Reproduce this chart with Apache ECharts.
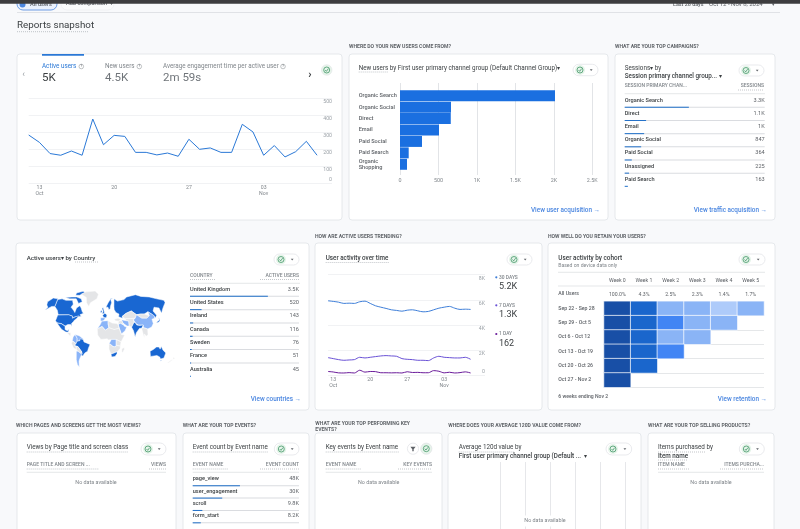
<!DOCTYPE html>
<html>
<head>
<meta charset="utf-8">
<title>Reports snapshot</title>
<script src="https://cdn.jsdelivr.net/npm/echarts@6/dist/echarts.min.js"></script>
<style>
html, body { margin: 0; padding: 0; background: #f8f9fb; }
#chart { width: 800px; height: 529px; filter: blur(0.35px); }
</style>
</head>
<body>
<div id="chart"></div>
<script>
// active users per day, Oct 12 - Nov 8
var activeUsers = [284,241,175,165,190,165,378,227,282,276,182,182,167,178,159,259,200,208,182,182,347,302,165,222,155,186,247,165];
var activity30 = [5920,5870,5810,5710,5730,5710,5840,5890,5710,5520,5410,5310,5200,5150,5090,5170,5200,5120,5040,5070,5200,5330,5410,5470,5330,5230,5250,5230];
var activity7 = [1387,1307,1227,1173,1200,1227,1413,1360,1413,1467,1520,1547,1520,1493,1307,1253,1227,1173,1173,1147,1360,1493,1413,1387,1360,1360,1413,1253];
var activity1 = [280,240,170,160,190,160,380,230,280,270,180,180,170,180,160,260,200,210,180,180,350,300,170,220,160,190,250,162];
var dayTicks = [1, 8, 15, 22];
var dayLabels = ['13\nOct', '20', '27', '03\nNov'];

var channels = ['Organic Search', 'Organic Social', 'Direct', 'Email', 'Paid Social', 'Paid Search', 'Organic\nShopping'];
var newUsers = [2015, 663, 660, 507, 286, 113, 91];

var campaigns = ['Organic Search', 'Direct', 'Email', 'Organic Social', 'Paid Social', 'Unassigned', 'Paid Search'];
var sessions = [3300, 1100, 1000, 847, 364, 225, 163];
var sessionsTotal = 7200;

var countries = ['United Kingdom', 'United States', 'Ireland', 'Canada', 'Sweden', 'France', 'Australia'];
var countryUsers = [3500, 520, 143, 116, 76, 51, 45];
var countryTotal = 4900;

var events = ['page_view', 'user_engagement', 'scroll', 'form_start'];
var eventCounts = [48000, 30000, 9800, 8200];
var eventTotal = 108000;

var weeks = ['Week 0', 'Week 1', 'Week 2', 'Week 3', 'Week 4', 'Week 5'];
var allUsersRow = ['100.0%', '4.3%', '2.5%', '2.3%', '1.4%', '1.7%'];
var cohorts = ['Sep 22 - Sep 28', 'Sep 29 - Oct 5', 'Oct 6 - Oct 12', 'Oct 13 - Oct 19', 'Oct 20 - Oct 26', 'Oct 27 - Nov 2'];
var retention = [
    [100, 4.5, 2.0, 2.1, 1.4, 1.7],
    [100, 4.6, 3.2, 2.0, 1.8],
    [100, 4.4, 2.0, 1.9],
    [100, 4.3, 3.1],
    [100, 4.2],
    [100]
];

// map values: listed countries plus rough guesses for the rest from the shading
var mapNames = ['United Kingdom','United States','Ireland','Canada','Sweden','France','Australia','Russia','Brazil','India','Mexico','South Africa','Japan','Indonesia',
    'China','Argentina','Algeria','Iran','Saudi Arabia','DR Congo','Colombia','Venezuela','Spain',
    'Greenland','Kazakhstan','Mongolia','Central Asia','Turkey','Iraq','SE Asia','North Africa','Sahel','East Africa','Southern Africa','Madagascar','Europe','Italy','Peru','Bolivia','Chile','Central America','New Zealand'];
var mapUsers = [3500,520,143,116,76,51,45,40,30,28,20,18,17,16,
    9,7,6,5,6,4,5,5,3,
    0,1,0,1,1,0,1,1,0,1,1,0,2,2,1,0,2,1,0];

// hand drawn outlines, lon/lat
var outlines = {
    'Canada': [[[-141,69],[-128,70],[-115,68],[-95,68],[-90,63],[-94,59],[-85,55],[-80,52],[-78,58],[-70,61],[-65,58],[-60,53],[-56,51],[-65,49],[-60,46],[-67,45],[-75,45],[-83,42],[-83,46],[-95,49],[-123,49],[-130,55],[-141,60]],
        [[-120,72],[-100,73],[-85,73],[-70,70],[-65,66],[-75,64],[-85,70],[-105,70]],
        [[-90,80],[-70,83],[-62,81],[-78,76],[-90,76]]],
    'United States': [[[-124,48.5],[-95,49],[-83,46],[-82,42],[-75,45],[-67,47],[-70,42],[-75,38],[-76,35],[-81,31],[-80,25],[-83,29],[-90,29],[-97,26],[-106,31],[-117,32.5],[-122,37]],
        [[-168,66],[-156,71],[-141,70],[-141,60],[-150,60],[-165,55],[-160,59],[-166,62]]],
    'Mexico': [[[-117,32],[-106,30.5],[-97,25.5],[-97,20],[-91,18],[-87,21],[-89,15.5],[-95,16],[-105,20],[-110,24]]],
    'Central America': [[[-92,15],[-83,15],[-83,10],[-78,8],[-85,10]]],
    'Greenland': [[[-73,78],[-60,82],[-30,83.5],[-18,78],[-22,70],[-40,65],[-44,60],[-52,65],[-55,72]]],
    'Colombia': [[[-77,8],[-72,12],[-67,6],[-67,1],[-70,-4],[-75,0],[-79,2]]],
    'Venezuela': [[[-72,12],[-62,10],[-52,5],[-55,2],[-60,2],[-67,1],[-67,6]]],
    'Brazil': [[[-60,5],[-52,4],[-50,0],[-35,-6],[-39,-15],[-41,-22],[-48,-26],[-53,-33],[-58,-30],[-55,-24],[-58,-20],[-65,-11],[-74,-8],[-70,-4],[-67,1],[-60,2]]],
    'Peru': [[[-81,-4],[-79,1],[-75,0],[-70,-4],[-74,-8],[-69,-12],[-70,-18],[-76,-14]]],
    'Bolivia': [[[-69,-11],[-65,-11],[-58,-20],[-55,-24],[-58,-27],[-65,-22],[-69,-19]]],
    'Chile': [[[-70,-18],[-69,-23],[-71,-40],[-73,-52],[-69,-55],[-75,-50],[-74,-38],[-71,-25]]],
    'Argentina': [[[-69,-22],[-65,-22],[-58,-27],[-54,-27],[-58,-34],[-62,-39],[-65,-43],[-68,-52],[-68,-55],[-72,-50],[-71,-40]]],
    'United Kingdom': [[[-5,50],[1,51],[0,54],[-3,58.5],[-6,57],[-3,54]]],
    'Ireland': [[[-10,52],[-6,52],[-6,55],[-10,54]]],
    'Sweden': [[[5,59],[11,59],[13,55.5],[17,57],[18,60],[22,65],[24,66],[20,69],[28,71],[20,70],[12,65]]],
    'France': [[[-4,48],[2,51],[8,49],[7,44],[3,43],[-1,43]]],
    'Spain': [[[-9,43],[-1,43],[3,42],[0,38],[-5,36],[-9,37]]],
    'Italy': [[[7,44],[13,46],[18,40],[16,38],[12,42]]],
    'Europe': [[[3,51],[9,54],[14,54],[23,54],[28,56],[32,52],[40,50],[38,47],[30,45],[28,41],[22,37],[19,42],[13,46],[7,44],[8,49]]],
    'Russia': [[[28,60],[30,70],[40,67],[60,69],[70,73],[100,77],[115,74],[140,73],[160,70],[180,68],[180,65],[170,60],[163,56],[156,51],[155,58],[142,59],[135,54],[140,48],[133,43],[128,50],[120,53],[108,50],[98,50],[87,49],[75,54],[60,51],[48,46],[47,42],[38,45],[40,50],[32,52],[28,56]]],
    'Kazakhstan': [[[48,46],[60,51],[75,54],[87,49],[80,42],[68,41],[55,41],[52,42]]],
    'Mongolia': [[[87,49],[98,50],[108,50],[120,47],[110,42],[97,42]]],
    'China': [[[74,39],[80,42],[87,49],[97,42],[110,42],[120,47],[120,53],[128,50],[133,47],[130,42],[122,40],[122,31],[118,24],[108,21],[98,23],[97,28],[85,28],[79,31]]],
    'India': [[[68,24],[74,34],[79,31],[81,28],[88,27],[97,28],[93,22],[88,22],[80,15],[77,8],[73,18]]],
    'Central Asia': [[[55,41],[68,41],[80,42],[74,39],[74,34],[68,24],[62,26],[61,36],[54,37]]],
    'Iran': [[[44,39],[54,37],[61,36],[62,26],[57,26],[50,30],[46,33]]],
    'Saudi Arabia': [[[35,29],[40,32],[47,29],[51,25],[56,24],[52,18],[43,13],[38,22]]],
    'Turkey': [[[26,40],[36,42],[44,39],[44,37],[36,36],[28,37]]],
    'Iraq': [[[36,36],[44,37],[46,33],[47,29],[40,32],[35,29]]],
    'SE Asia': [[[93,22],[98,23],[108,21],[109,12],[105,9],[100,13],[100,6],[98,10]]],
    'Indonesia': [[[95,5],[105,-3],[106,-6],[100,-3]], [[108,-7],[115,-8],[114,-9],[108,-8]], [[135,-3],[141,-3],[141,-8],[136,-6]]],
    'Japan': [[[130,32],[136,34],[141,38],[142,44],[139,38],[132,35]]],
    'New Zealand': [[[167,-46],[172,-41],[178,-38],[173,-35],[175,-41],[170,-46]]],
    'Algeria': [[[-17,21],[-9,30],[-6,36],[10,37],[10,30],[12,23],[3,19],[-5,25]]],
    'North Africa': [[[10,37],[20,32],[32,31],[35,28],[37,22],[25,20],[12,23],[10,30]]],
    'Sahel': [[[-17,21],[-5,25],[3,19],[12,23],[25,20],[37,22],[43,12],[51,11],[42,0],[30,4],[18,4],[10,3],[8,5],[-8,4],[-16,11]]],
    'DR Congo': [[[12,-5],[18,4],[30,4],[30,-8],[28,-12],[22,-11],[16,-6]]],
    'East Africa': [[[30,4],[42,0],[40,-10],[30,-8]]],
    'Southern Africa': [[[12,-5],[16,-6],[22,-11],[28,-12],[30,-8],[40,-10],[40,-15],[33,-23],[25,-26],[17,-29],[12,-17]]],
    'South Africa': [[[17,-29],[25,-26],[32,-23],[32,-28],[27,-34],[19,-35]]],
    'Madagascar': [[[44,-16],[50,-13],[50,-18],[46,-25],[44,-23]]],
    'Australia': [[[114,-22],[122,-18],[130,-12],[136,-12],[139,-17],[142,-11],[146,-19],[153,-26],[150,-37],[143,-39],[138,-35],[131,-32],[124,-33],[115,-34]],
        [[145,-41],[148,-41],[147,-43.5]]]
};

var FONT = 'Roboto, "Noto Sans", sans-serif';
var LINK = '#4a86e0';
var RULE = '#dadce0';
var GREY = '#80868b';
var TEXT = '#3c4043';

// world map outline -> geojson
echarts.registerMap('world', {
    type: 'FeatureCollection',
    features: Object.keys(outlines).map(function (name) {
        return {
            type: 'Feature',
            properties: { name: name },
            geometry: {
                type: 'MultiPolygon',
                coordinates: outlines[name].map(function (ring) { return [ring]; })
            }
        };
    })
});

// the reference map narrows towards the poles, so a small pseudo-cylindrical projection
var latStops = [[-60, 268], [-55, 262], [-33, 228], [0, 186], [25, 140], [49, 105], [71, 55], [77, 45], [84, 33]];
function latToY(lat) {
    for (var i = 1; i < latStops.length; i++) {
        if (lat <= latStops[i][0]) {
            var a = latStops[i - 1], b = latStops[i];
            return a[1] + (b[1] - a[1]) * (lat - a[0]) / (b[0] - a[0]);
        }
    }
    return 33;
}
function shrink(lat) {
    var l = Math.abs(lat);
    return l <= 35 ? 1 : 1 - (l - 35) * 0.0053;
}
var mapProjection = {
    project: function (p) { return [p[0] * 1.337 * shrink(p[1]), latToY(p[1])]; },
    unproject: function (p) { return [p[0] / 1.337, (186 - p[1]) / 1.5]; }
};

var grids = [], xAxes = [], yAxes = [], series = [], els = [];

function lab(size, weight, color) {
    return { fontFamily: FONT, fontSize: size, fontWeight: weight, color: color };
}
function text(x, y, str, font, fill, align, extra) {
    var style = { text: str, font: font + ' ' + FONT, fill: fill || TEXT, align: align || 'left', verticalAlign: 'middle' };
    if (extra) { for (var k in extra) { style[k] = extra[k]; } }
    els.push({ type: 'text', x: x, y: y, z: 20, silent: true, style: style });
}
function line(x1, y1, x2, y2, color, dash) {
    els.push({ type: 'line', z: 20, silent: true, shape: { x1: x1, y1: y1, x2: x2, y2: y2 },
        style: { stroke: color || RULE, lineWidth: dash ? 0.6 : 0.7, lineDash: dash || null } });
}
function dotted(x1, x2, y) { line(x1, y, x2, y, '#9aa0a6', [1, 1]); }
function card(x1, y1, x2, y2) {
    els.push({ type: 'rect', z: -5, silent: true, shape: { x: x1, y: y1, width: x2 - x1, height: y2 - y1, r: 3 },
        style: { fill: '#fff', stroke: '#e0e3e7', lineWidth: 0.8 } });
}
function heading(x, y, str) { text(x, y, str, '700 5.1px', '#5f6368'); }
function check(cx, cy, r) {
    els.push({ type: 'circle', z: 20, silent: true, shape: { cx: cx, cy: cy, r: r }, style: { fill: 'none', stroke: '#2e8b57', lineWidth: 0.7 } });
    els.push({ type: 'polyline', z: 20, silent: true, shape: { points: [[cx - r * 0.5, cy], [cx - r * 0.1, cy + r * 0.45], [cx + r * 0.55, cy - r * 0.45]] },
        style: { fill: 'none', stroke: '#2e8b57', lineWidth: 0.7 } });
}
function pill(x1, x2, y1, y2) {
    els.push({ type: 'rect', z: 19, silent: true, shape: { x: x1, y: y1, width: x2 - x1, height: y2 - y1, r: (y2 - y1) / 2 },
        style: { fill: '#fff', stroke: '#dfe1e5', lineWidth: 0.7 } });
    var cy = (y1 + y2) / 2;
    els.push({ type: 'circle', z: 19, silent: true, shape: { cx: x1 + 7, cy: cy, r: 5 }, style: { fill: '#e6f4ea' } });
    check(x1 + 7, cy, 3);
    els.push({ type: 'polygon', z: 20, silent: true, shape: { points: [[x2 - 8.2, cy - 0.8], [x2 - 5.4, cy - 0.8], [x2 - 6.8, cy + 0.9]] }, style: { fill: '#5f6368' } });
}
function help(cx, cy) {
    els.push({ type: 'circle', z: 20, silent: true, shape: { cx: cx, cy: cy, r: 2.3 }, style: { fill: 'none', stroke: '#80868b', lineWidth: 0.5 } });
    text(cx, cy, '?', '500 3.4px', '#80868b', 'center');
}
function link(xRight, y, str) { text(xRight, y, str + ' \u2192', '500 6.4px', LINK, 'right'); }

function shortNum(v) {
    if (v >= 1000) { return (v / 1000).toFixed(1).replace('.0', '') + 'K'; }
    return String(v);
}

// rows of a ranked table: name, value and a thin bar under the row
function addTable(left, firstBar, width, pitch, labels, values, total, ruleCount) {
    var g = grids.length;
    grids.push({ left: left, top: firstBar - pitch / 2, width: width, height: pitch * labels.length });
    xAxes.push({ gridIndex: g, type: 'value', min: 0, max: total, show: false });
    var cat = {
        gridIndex: g, type: 'category', inverse: true, axisLine: { show: false }, axisTick: { show: false }, splitLine: { show: false }
    };
    var yi = yAxes.length;
    yAxes.push(Object.assign({}, cat, { data: labels, position: 'left',
        axisLabel: Object.assign(lab(5.6, 500, TEXT), { inside: true, margin: 0, align: 'left', verticalAlign: 'bottom', padding: [0, 0, 4, 0], interval: 0 }) }));
    yAxes.push(Object.assign({}, cat, { data: values.map(shortNum), position: 'right',
        axisLabel: Object.assign(lab(5.6, 400, '#5f6368'), { inside: true, margin: 0, align: 'right', verticalAlign: 'bottom', padding: [0, 0, 4, 0], interval: 0 }) }));
    series.push({ type: 'bar', name: 'rule', xAxisIndex: g, yAxisIndex: yi, barWidth: 1, barGap: '-100%', silent: true,
        itemStyle: { color: RULE }, data: values.slice(0, ruleCount).map(function () { return total; }) });
    series.push({ type: 'bar', name: 'value', xAxisIndex: g, yAxisIndex: yi, barWidth: 1, barGap: '-100%', silent: true,
        itemStyle: { color: '#1f6fc9' }, data: values });
}

function axisK(v) { return v === 0 ? '0' : (v >= 1000 ? v / 1000 + 'K' : String(v)); }

// top strip
els.push({ type: 'rect', z: 1, silent: true, shape: { x: 17, y: -6, width: 40, height: 16, r: 6 }, style: { fill: '#eaf1fd', stroke: '#4a86e0', lineWidth: 0.8 } });
els.push({ type: 'circle', z: 2, silent: true, shape: { cx: 22.5, cy: 4.5, r: 3 }, style: { fill: '#4a86e0' } });
text(30, 4.5, 'All users', '500 5.6px', '#5f6368');
els.push({ type: 'rect', z: 1, silent: true, shape: { x: 61, y: -6, width: 53, height: 16, r: 6 }, style: { fill: '#fafbfc', stroke: '#eceef0', lineWidth: 0.7 } });
text(66, 4, 'Add comparison  +', '500 5.6px', '#5f6368');
text(673, 4.5, 'Last 28 days', '500 5.4px', '#5f6368');
text(709, 4.5, 'Oct 12 - Nov 8, 2024', '400 6px', '#5f6368');
text(772, 4.5, '\u25BE', '400 5px', '#5f6368');
line(17, 12.5, 780, 12.5, '#d5d8dc');
els.push({ type: 'rect', z: 30, silent: true, shape: { x: 0, y: 0, width: 800, height: 3.7 }, style: { fill: '#3d3d3f' } });
text(17, 25.7, 'Reports snapshot', '400 9.8px', '#3c4043');
dotted(17, 88, 31.7);

// ---- Active users card
card(17, 54, 342, 220);
els.push({ type: 'rect', z: 20, silent: true, shape: { x: 42, y: 54, width: 42, height: 1.8 }, style: { fill: '#2a78d6' } });
text(23.7, 75, '\u2039', '400 9px', '#9aa0a6', 'center');
text(42, 66.7, 'Active users', '400 6.3px', '#2a78d6');
help(81.3, 66.5);
text(42, 78, '5K', '400 11.5px', '#3c4043');
text(105, 66.7, 'New users', '400 6.3px', '#80868b');
help(139.3, 66.5);
text(105, 78, '4.5K', '400 11.5px', '#70757a');
text(163, 66.7, 'Average engagement time per active user', '400 6.3px', '#80868b');
help(283, 66.5);
text(163, 78, '2m 59s', '400 11.5px', '#70757a');
text(310, 75, '\u203A', '700 11px', '#3c4043', 'center');
els.push({ type: 'circle', z: 19, silent: true, shape: { cx: 326.7, cy: 70, r: 5.3 }, style: { fill: '#e6f4ea', stroke: '#dfe1e5', lineWidth: 0.5 } });
check(326.7, 70, 3);

function axisTime(g, maxIdx) {
    return {
        gridIndex: g, type: 'value', min: 0, max: maxIdx,
        axisLine: { show: false }, axisTick: { show: false }, splitLine: { show: false },
        axisLabel: Object.assign(lab(5.2, 400, GREY), {
            customValues: dayTicks, margin: 2, lineHeight: 5.6,
            formatter: function (v) { return dayLabels[dayTicks.indexOf(v)] || ''; }
        })
    };
}
function axisRight(g, max, interval) {
    return {
        gridIndex: g, type: 'value', position: 'right', min: 0, max: max, interval: interval,
        axisLine: { show: false }, axisTick: { show: false },
        splitLine: { lineStyle: { color: '#eeeff1', width: 0.8 } },
        axisLabel: Object.assign(lab(5.2, 400, '#9aa0a6'), { inside: true, margin: 0, align: 'right', verticalAlign: 'top', verticalAlignMinLabel: 'bottom',
            padding: [1, 0, 1, 0], hideOverlap: false, formatter: axisK })
    };
}
function indexed(arr) { return arr.map(function (v, i) { return [i, v]; }); }

grids.push({ left: 28.7, top: 98.3, width: 303.3, height: 85 });
xAxes.push(axisTime(0, 28.4));
yAxes.push(axisRight(0, 500, 100));
series.push({ type: 'line', name: 'Active users', xAxisIndex: 0, yAxisIndex: 0, showSymbol: false, silent: true,
    lineStyle: { color: '#2a78d6', width: 1 }, data: indexed(activeUsers) });

// ---- New users by channel
heading(349, 47, 'WHERE DO YOUR NEW USERS COME FROM?');
card(349, 54, 608, 220);
text(358.7, 68.3, 'New users by First user primary channel group (Default Channel Group)\u25BE', '400 6.3px', TEXT);
dotted(358.7, 388, 72);
pill(573, 598, 64.3, 75.7);

var gBack = grids.length;
grids.push({ left: 400, top: 83, width: 192.3, height: 92 });
xAxes.push({ gridIndex: gBack, type: 'value', min: 0, max: 2500, interval: 500,
    axisLine: { show: false }, axisTick: { show: false },
    splitLine: { lineStyle: { color: '#dfe1e4', width: 0.9 } },
    axisLabel: Object.assign(lab(5.4, 400, GREY), { margin: 3, formatter: axisK }) });
yAxes.push({ gridIndex: gBack, type: 'category', data: [], show: false });

var gBars = grids.length;
grids.push({ left: 400, top: 90, width: 192.3, height: 80 });
xAxes.push({ gridIndex: gBars, type: 'value', min: 0, max: 2500, show: false });
yAxes.push({ gridIndex: gBars, type: 'category', inverse: true, data: channels,
    axisLine: { show: false }, axisTick: { show: false },
    axisLabel: Object.assign(lab(5.6, 500, '#5f6368'), { margin: 41.3, align: 'left', interval: 0, lineHeight: 6 }) });
series.push({ type: 'bar', name: 'New users', xAxisIndex: gBars, yAxisIndex: yAxes.length - 1, barCategoryGap: '4%', silent: true,
    itemStyle: { color: '#1a6fe0' }, data: newUsers });
link(600, 210, 'View user acquisition');

// ---- Top campaigns
heading(615, 47, 'WHAT ARE YOUR TOP CAMPAIGNS?');
card(615, 54, 775, 220);
text(624.7, 68, 'Sessions\u25BE by', '400 6.3px', TEXT);
text(624.7, 76.7, 'Session primary channel group... \u25BE', '500 6.3px', TEXT);
pill(739, 764, 65, 76);
text(624.7, 86, 'SESSION PRIMARY CHAN...', '500 5px', GREY);
text(764, 86, 'SESSIONS', '500 5px', GREY, 'right');
dotted(738, 764, 90);
line(624.7, 93.7, 765, 93.7);
addTable(624.7, 107.3, 140, 13.17, campaigns, sessions, sessionsTotal, 6);
link(767, 210, 'View traffic acquisition');

// ---- Country map and table
card(16, 243, 309, 410);
text(26.7, 258, 'Active users\u25BE by Country', '500 6.2px', TEXT);
dotted(75, 98, 262);
pill(274, 299, 254, 265);
series.push({
    type: 'map', map: 'world', projection: mapProjection, silent: true, selectedMode: false,
    left: 44.7, top: 291, width: 130, height: 76.3,
    label: { show: false }, emphasis: { disabled: true },
    itemStyle: { borderColor: '#fff', borderWidth: 0.5 },
    data: mapNames.map(function (n, i) { return { name: n, value: mapUsers[i] }; })
});
var mapSeriesIndex = series.length - 1;
text(190, 276, 'COUNTRY', '500 5px', GREY);
dotted(190, 216, 279.5);
text(299, 276, 'ACTIVE USERS', '500 5px', GREY, 'right');
dotted(260, 299, 279.5);
line(190, 283.3, 300, 283.3);
addTable(190, 296.3, 109, 13.33, countries, countryUsers, countryTotal, 6);
link(301, 399.7, 'View countries');

// ---- User activity over time
heading(315, 237, 'HOW ARE ACTIVE USERS TRENDING?');
card(315, 243, 542, 410);
text(325.7, 258, 'User activity over time', '500 6.3px', TEXT);
dotted(325.7, 389, 262.5);
pill(507, 532, 254, 265);
var gAct = grids.length;
grids.push({ left: 328, top: 274.7, width: 157, height: 100.3 });
xAxes.push(axisTime(gAct, 29.73));
yAxes.push(axisRight(gAct, 8000, 2000));
[[activity30, '#3f7fd9', '30 DAYS', '5.2K', 277.3], [activity7, '#6a52d6', '7 DAYS', '1.3K', 305.3], [activity1, '#6a1b9a', '1 DAY', '162', 334]].forEach(function (s) {
    series.push({ type: 'line', name: s[2], xAxisIndex: gAct, yAxisIndex: yAxes.length - 1, showSymbol: false, smooth: 0.3, silent: true,
        lineStyle: { color: s[1], width: 1 }, data: indexed(s[0]) });
    els.push({ type: 'circle', z: 20, silent: true, shape: { cx: 496.3, cy: s[4], r: 1.1 }, style: { fill: s[1] } });
    text(499, s[4], s[2], '500 4.9px', GREY);
    text(499, s[4] + 9.4, s[3], '400 9px', TEXT);
});

// ---- Cohort table
heading(548, 237, 'HOW WELL DO YOU RETAIN YOUR USERS?');
card(548, 243, 775, 410);
text(558.3, 258, 'User activity by cohort', '500 6.4px', TEXT);
text(558.3, 266, 'Based on device data only', '400 5.1px', GREY);
pill(739, 765, 254, 265);
line(558, 272.3, 765, 272.3);
line(558, 286, 765, 286);
text(558.3, 294, 'All Users', '500 5.2px', '#5f6368');
var gHeat = grids.length;
grids.push({ left: 604, top: 301.3, width: 160, height: 86 });
xAxes.push({ gridIndex: gHeat, type: 'category', position: 'top', data: weeks,
    axisLine: { show: false }, axisTick: { show: false }, splitLine: { show: false },
    axisLabel: Object.assign(lab(5.2, 400, '#5f6368'), { interval: 0, margin: 0, lineHeight: 14,
        formatter: function (v, i) { return v + '\n' + allUsersRow[i]; } }) });
yAxes.push({ gridIndex: gHeat, type: 'category', inverse: true, data: cohorts,
    axisLine: { show: false },
    axisTick: { length: 46, lineStyle: { color: RULE, width: 0.7 } },
    splitLine: { show: true, lineStyle: { color: RULE, width: 0.7 } },
    axisLabel: Object.assign(lab(5.2, 500, '#5f6368'), { interval: 0, margin: 45.7, align: 'left' }) });
var heatData = [];
retention.forEach(function (row, r) {
    row.forEach(function (v, c) { heatData.push([c, r, v]); });
});
series.push({ type: 'heatmap', name: 'Retention', xAxisIndex: gHeat, yAxisIndex: yAxes.length - 1, silent: true,
    itemStyle: { borderColor: '#fff', borderWidth: 0.7 }, emphasis: { disabled: true }, data: heatData });
var heatSeriesIndex = series.length - 1;
text(558.3, 397, '6 weeks ending Nov 2', '500 5.1px', '#5f6368');
link(767, 399.7, 'View retention');

// ---- Bottom row
heading(16, 426, 'WHICH PAGES AND SCREENS GET THE MOST VIEWS?');
card(17, 433, 176, 545);
text(26.7, 447.7, 'Views by Page title and screen class', '400 6.3px', TEXT);
dotted(26.7, 127.7, 452);
pill(141, 166, 443, 455);
text(26.7, 465, 'PAGE TITLE AND SCREEN ...', '500 5px', GREY);
dotted(26.7, 99, 469);
text(166, 465, 'VIEWS', '500 5px', GREY, 'right');
dotted(149, 166, 469);
line(26.7, 472.3, 166, 472.3);
text(96, 483, 'No data available', '400 5.4px', GREY, 'center');

heading(182.7, 426, 'WHAT ARE YOUR TOP EVENTS?');
card(183, 433, 309, 545);
text(192.7, 447.7, 'Event count by Event name', '400 6.3px', TEXT);
dotted(192.7, 268, 452);
pill(274.3, 299, 443, 455);
text(192.7, 465, 'EVENT NAME', '500 5px', GREY);
dotted(192.7, 228, 469);
text(299, 465, 'EVENT COUNT', '500 5px', GREY, 'right');
dotted(260, 299, 469);
line(192.7, 472.3, 299, 472.3);
addTable(192.7, 486.2, 106.3, 13.3, events, eventCounts, eventTotal, 4);

heading(315.3, 424, 'WHAT ARE YOUR TOP PERFORMING KEY');
heading(315.3, 430, 'EVENTS?');
card(315, 433, 442, 545);
text(325.7, 447.7, 'Key events by Event name', '400 6.3px', TEXT);
dotted(325.7, 399, 452);
els.push({ type: 'circle', z: 19, silent: true, shape: { cx: 413, cy: 448.7, r: 5.6 }, style: { fill: '#fff', stroke: '#dfe1e5', lineWidth: 0.7 } });
els.push({ type: 'polygon', z: 20, silent: true, shape: { points: [[410.4, 446.8], [415.6, 446.8], [413.7, 449.2], [413.7, 451.2], [412.3, 451.2], [412.3, 449.2]] }, style: { fill: '#5f6368' } });
els.push({ type: 'circle', z: 19, silent: true, shape: { cx: 426.3, cy: 448.7, r: 5.6 }, style: { fill: '#e6f4ea', stroke: '#dfe1e5', lineWidth: 0.7 } });
check(426.3, 448.7, 3);
text(325.7, 465, 'EVENT NAME', '500 5px', GREY);
dotted(325.7, 361, 469);
text(432, 465, 'KEY EVENTS', '500 5px', GREY, 'right');
dotted(398, 432, 469);
line(325.7, 472.3, 432, 472.3);
text(378.7, 483, 'No data available', '400 5.4px', GREY, 'center');

heading(448.3, 426, 'WHERE DOES YOUR AVERAGE 120D VALUE COME FROM?');
card(448, 433, 641, 545);
text(458.7, 447.7, 'Average 120d value by', '400 6.3px', TEXT);
dotted(458.7, 514, 452);
text(458.7, 456, 'First user primary channel group (Default ...  \u25BE', '500 6.3px', TEXT);
pill(606, 631.7, 443, 455);
// empty chart, only the grid stays
var gEmpty = grids.length;
grids.push({ left: 500.7, top: 462, width: 125, height: 90 });
xAxes.push({ gridIndex: gEmpty, type: 'value', min: 0, max: 5, interval: 1,
    axisLine: { show: false }, axisTick: { show: false }, axisLabel: { show: false },
    splitLine: { lineStyle: { color: '#dfe1e4', width: 0.8 } } });
yAxes.push({ gridIndex: gEmpty, type: 'category', data: [], show: false });
text(545, 521, 'No data available', '400 5.4px', GREY, 'center', { backgroundColor: '#fff', padding: [3, 2, 3, 2] });

heading(648, 426, 'WHAT ARE YOUR TOP SELLING PRODUCTS?');
card(648, 433, 774, 545);
text(658, 447.7, 'Items purchased by', '400 6.3px', TEXT);
dotted(658, 705, 452);
text(658, 456, 'Item name', '500 6.3px', TEXT);
dotted(658, 687, 460);
pill(739.3, 764.3, 443, 455);
text(658, 465, 'ITEM NAME', '500 5px', GREY);
dotted(658, 689, 469);
text(764, 465, 'ITEMS PURCHA...', '500 5px', GREY, 'right');
dotted(720, 764, 469);
line(658, 472.3, 764, 472.3);
text(711, 483, 'No data available', '400 5.4px', GREY, 'center');

var option = {
    backgroundColor: '#f8f9fb',
    animation: false,
    tooltip: { show: false },
    grid: grids,
    xAxis: xAxes,
    yAxis: yAxes,
    visualMap: [
        { type: 'piecewise', show: false, seriesIndex: mapSeriesIndex,
            pieces: [{ min: 16, color: '#1967d2' }, { min: 3, max: 15, color: '#8ab4f8' }, { max: 2, color: '#e4e5e7' }] },
        { type: 'piecewise', show: false, seriesIndex: heatSeriesIndex, dimension: 2,
            pieces: [{ min: 50, color: '#184fa6' }, { min: 4, max: 50, color: '#1a66cc' }, { min: 2.5, max: 4, color: '#4285f4' },
                { min: 1.7, max: 2.5, color: '#8ab4f6' }, { max: 1.7, color: '#aecbfa' }] }
    ],
    graphic: { elements: els },
    series: series
};

var myChart = echarts.init(document.getElementById('chart'));
myChart.setOption(option, true);
</script>
</body>
</html>
